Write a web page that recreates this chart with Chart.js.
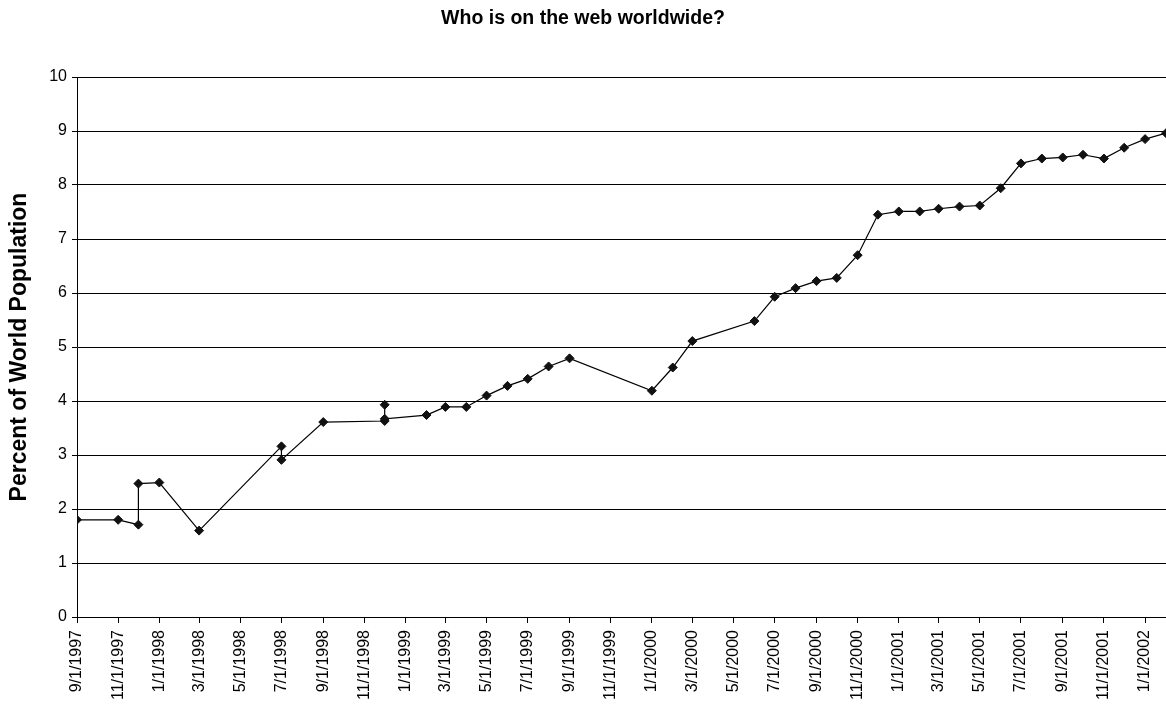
<!DOCTYPE html>
<html>
<head>
<meta charset="utf-8">
<title>Who is on the web worldwide?</title>
<script src="https://cdn.jsdelivr.net/npm/chart.js@4/dist/chart.umd.min.js"></script>
<style>
    html, body { margin: 0; padding: 0; background: #fff; }
    #wrap { width: 1166px; height: 706px; position: relative; }
</style>
</head>
<body>
<div id="wrap"><canvas id="webChart"></canvas></div>
<script>
// Survey dates (m/d/yyyy) and share of world population online (%)
const surveyDates = [
    '9/1/1997', '11/1/1997', '12/1/1997', '12/1/1997', '1/1/1998', '3/1/1998',
    '7/1/1998', '7/1/1998', '9/1/1998', '12/1/1998', '12/1/1998', '12/1/1998',
    '2/1/1999', '3/1/1999', '4/1/1999', '5/1/1999', '6/1/1999', '7/1/1999',
    '8/1/1999', '9/1/1999', '1/1/2000', '2/1/2000', '3/1/2000', '6/1/2000',
    '7/1/2000', '8/1/2000', '9/1/2000', '10/1/2000', '11/1/2000', '12/1/2000',
    '1/1/2001', '2/1/2001', '3/1/2001', '4/1/2001', '5/1/2001', '6/1/2001',
    '7/1/2001', '8/1/2001', '9/1/2001', '10/1/2001', '11/1/2001', '12/1/2001',
    '1/1/2002', '2/1/2002'
];
const percentOnline = [
    1.80, 1.80, 1.71, 2.47, 2.49, 1.60,
    3.16, 2.91, 3.61, 3.63, 3.93, 3.67,
    3.74, 3.89, 3.89, 4.10, 4.28, 4.41,
    4.64, 4.79, 4.19, 4.62, 5.11, 5.48,
    5.93, 6.09, 6.22, 6.28, 6.70, 7.45,
    7.51, 7.51, 7.56, 7.60, 7.62, 7.94,
    8.40, 8.49, 8.51, 8.56, 8.49, 8.69,
    8.85, 8.96
];
// x axis tick labels, every two months
const xTickLabels = [
    '9/1/1997', '11/1/1997', '1/1/1998', '3/1/1998', '5/1/1998', '7/1/1998',
    '9/1/1998', '11/1/1998', '1/1/1999', '3/1/1999', '5/1/1999', '7/1/1999',
    '9/1/1999', '11/1/1999', '1/1/2000', '3/1/2000', '5/1/2000', '7/1/2000',
    '9/1/2000', '11/1/2000', '1/1/2001', '3/1/2001', '5/1/2001', '7/1/2001',
    '9/1/2001', '11/1/2001', '1/1/2002'
];
const yTicks = [0, 1, 2, 3, 4, 5, 6, 7, 8, 9, 10];

const FONT = '"Liberation Sans", Arial, Helvetica, sans-serif';

// 'm/d/yyyy' -> ms (UTC)
function toTime(str) {
    const p = str.split('/').map(Number);
    return Date.UTC(p[2], p[0] - 1, p[1]);
}
function toLabel(t) {
    const d = new Date(t);
    return (d.getUTCMonth() + 1) + '/' + d.getUTCDate() + '/' + d.getUTCFullYear();
}

const points = surveyDates.map((d, i) => ({ x: toTime(d), y: percentOnline[i] }));
const xTickValues = xTickLabels.map(toTime);

const ctx = document.getElementById('webChart').getContext('2d');
const webChart = new Chart(ctx, {
    type: 'line',
    data: {
        datasets: [{
            label: 'Percent of World Population',
            data: points,
            borderColor: '#000',
            borderWidth: 1.2,
            backgroundColor: '#000',
            pointStyle: 'rectRot',
            pointRadius: 4.5,
            pointBackgroundColor: '#111',
            pointBorderColor: '#111',
            pointBorderWidth: 1,
            tension: 0,
            fill: false
        }]
    },
    options: {
        responsive: true,
        maintainAspectRatio: false,
        animation: false,
        layout: { padding: 0, autoPadding: false },
        plugins: {
            legend: { display: false },
            tooltip: { enabled: false },
            title: {
                display: true,
                text: 'Who is on the web worldwide?',
                color: '#000',
                font: { family: FONT, size: 19.5, weight: 'bold' },
                padding: { top: 7, bottom: 46.6 }
            }
        },
        scales: {
            x: {
                type: 'linear',
                min: xTickValues[0],
                max: toTime(surveyDates[surveyDates.length - 1]),
                afterBuildTicks: (scale) => {
                    scale.ticks = xTickValues.map(v => ({ value: v }));
                },
                afterFit: (scale) => {
                    scale.height = 89;
                    scale.paddingLeft = 0;
                    scale.paddingRight = 0;
                },
                ticks: {
                    autoSkip: false,
                    minRotation: 90,
                    maxRotation: 90,
                    padding: 7,
                    color: '#000',
                    font: { family: FONT, size: 16 },
                    callback: (v) => toLabel(v)
                },
                grid: {
                    drawOnChartArea: false,
                    drawTicks: true,
                    tickLength: 6,
                    tickColor: '#000',
                    color: '#000'
                },
                border: { display: true, color: '#000', width: 1 }
            },
            y: {
                min: 0,
                max: 10,
                afterBuildTicks: (scale) => {
                    scale.ticks = yTicks.map(v => ({ value: v }));
                },
                afterFit: (scale) => { scale.width = 77; },
                ticks: {
                    padding: 5,
                    color: '#000',
                    font: { family: FONT, size: 16 }
                },
                grid: {
                    color: '#000',
                    lineWidth: 1,
                    drawTicks: true,
                    tickLength: 5,
                    tickColor: '#000'
                },
                border: { display: true, color: '#000', width: 1 },
                title: {
                    display: true,
                    text: 'Percent of World Population',
                    color: '#000',
                    font: { family: FONT, size: 23, weight: 'bold' },
                    padding: { top: 6, bottom: 0 }
                }
            }
        }
    }
});
</script>
</body>
</html>
